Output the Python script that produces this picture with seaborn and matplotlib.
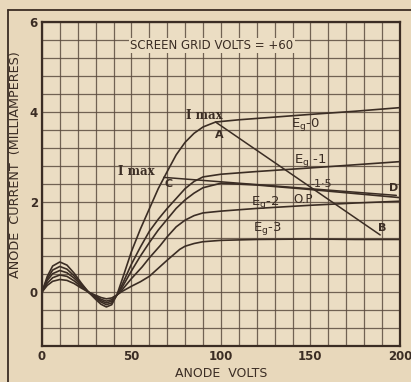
import numpy as np
import pandas as pd
import matplotlib
matplotlib.use("Agg")
import matplotlib.pyplot as plt
from matplotlib.lines import Line2D
import seaborn as sns

# Anode volts / anode current (mA) for each control-grid bias
volts_eg0 = [0, 3, 6, 10, 14, 18, 22, 26, 30, 33, 36, 39, 42, 45, 50, 55, 60, 65, 70, 75, 80, 85, 90, 97, 110, 130, 150, 175, 200]
ma_eg0 = [0.0, 0.35, 0.58, 0.67, 0.6, 0.42, 0.2, 0.0, -0.16, -0.27, -0.33, -0.28, -0.05, 0.3, 0.9, 1.4, 1.85, 2.3, 2.68, 3.05, 3.33, 3.53, 3.67, 3.78, 3.83, 3.89, 3.95, 4.02, 4.1]

volts_eg1 = [0, 3, 6, 10, 14, 18, 22, 26, 30, 33, 36, 39, 42, 45, 50, 55, 60, 65, 70, 75, 80, 85, 90, 100, 120, 150, 175, 200]
ma_eg1 = [0.0, 0.3, 0.49, 0.57, 0.51, 0.36, 0.18, 0.0, -0.13, -0.22, -0.28, -0.24, -0.06, 0.18, 0.62, 1.0, 1.35, 1.62, 1.86, 2.08, 2.3, 2.46, 2.56, 2.62, 2.68, 2.76, 2.83, 2.9]

volts_eg15 = [0, 3, 6, 10, 14, 18, 22, 26, 30, 33, 36, 39, 42, 45, 50, 55, 60, 65, 70, 75, 80, 85, 90, 100, 120, 150, 175, 200]
ma_eg15 = [0.0, 0.26, 0.41, 0.48, 0.43, 0.31, 0.15, 0.0, -0.11, -0.19, -0.24, -0.2, -0.06, 0.12, 0.47, 0.8, 1.1, 1.38, 1.62, 1.86, 2.05, 2.2, 2.32, 2.42, 2.38, 2.28, 2.19, 2.1]

volts_eg2 = [0, 3, 6, 10, 14, 18, 22, 26, 30, 33, 36, 39, 42, 45, 50, 56, 60, 66, 70, 75, 80, 85, 90, 100, 120, 150, 175, 200]
ma_eg2 = [0.0, 0.2, 0.32, 0.38, 0.35, 0.25, 0.12, 0.0, -0.09, -0.16, -0.2, -0.17, -0.06, 0.06, 0.3, 0.56, 0.76, 1.03, 1.23, 1.45, 1.6, 1.7, 1.76, 1.8, 1.86, 1.93, 1.98, 2.02]

volts_eg3 = [0, 3, 6, 10, 14, 18, 22, 26, 30, 33, 36, 39, 42, 45, 50, 55, 60, 65, 70, 77, 80, 85, 90, 100, 120, 150, 175, 200]
ma_eg3 = [0.0, 0.15, 0.24, 0.28, 0.26, 0.19, 0.09, 0.0, -0.07, -0.12, -0.15, -0.13, -0.06, 0.02, 0.13, 0.23, 0.35, 0.53, 0.71, 0.95, 1.02, 1.08, 1.12, 1.15, 1.17, 1.18, 1.17, 1.17]

# Load lines: A-B and C-D
load_ab_v = [97, 189]
load_ab_ma = [3.78, 1.27]
load_cd_v = [68, 198]
load_cd_ma = [2.55, 2.15]

x_tick_labels = ["0", "50", "100", "150", "200"]
y_tick_labels = ["0", "2", "4", "6"]

curves = pd.concat([
    pd.DataFrame({"volts": volts_eg0, "ma": ma_eg0, "bias": "0"}),
    pd.DataFrame({"volts": volts_eg1, "ma": ma_eg1, "bias": "-1"}),
    pd.DataFrame({"volts": volts_eg15, "ma": ma_eg15, "bias": "-1.5"}),
    pd.DataFrame({"volts": volts_eg2, "ma": ma_eg2, "bias": "-2"}),
    pd.DataFrame({"volts": volts_eg3, "ma": ma_eg3, "bias": "-3"}),
], ignore_index=True)
loads = pd.concat([
    pd.DataFrame({"volts": load_ab_v, "ma": load_ab_ma, "line": "AB"}),
    pd.DataFrame({"volts": load_cd_v, "ma": load_cd_ma, "line": "CD"}),
], ignore_index=True)

paper = "#E8D8BB"
ink = "#3b2d24"
grid_ink = "#5c4c40"

sns.set_theme(style="white")
plt.rcParams["font.family"] = ["DejaVu Sans"]

fig = plt.figure(figsize=(4.11, 3.82), dpi=100, facecolor=paper)
ax = fig.add_axes([0.102, 0.094, 0.871, 0.848])
ax.set_facecolor("#EBDDC3")

sns.lineplot(data=curves, x="volts", y="ma", hue="bias", units="bias", estimator=None,
             palette=[ink] * 5, linewidth=1.2, legend=False, sort=False, ax=ax)
sns.lineplot(data=loads, x="volts", y="ma", hue="line", units="line", estimator=None,
             palette=[ink] * 2, linewidth=1.1, legend=False, sort=False, ax=ax)

ax.set_xlim(0, 200)
ax.set_ylim(-1.2, 6.0)

xt = np.arange(0, 201, 10)
ax.set_xticks(xt)
ax.set_xticklabels([x_tick_labels[i // 5] if i % 5 == 0 else "" for i in range(len(xt))])
yt = np.round(np.arange(-3, 16) * 0.4, 1)
ax.set_yticks(yt)
ylab = []
for v in yt:
    s = ("%g" % v)
    ylab.append(s if s in y_tick_labels else "")
ax.set_yticklabels(ylab)
ax.tick_params(axis="both", length=0, pad=3, labelsize=8.5, colors=ink)
for lbl in ax.get_yticklabels() + ax.get_xticklabels():
    lbl.set_fontweight("bold")

ax.grid(True, color=grid_ink, linewidth=0.9, alpha=0.85)
ax.set_axisbelow(True)
for sp in ax.spines.values():
    sp.set_color(ink)
    sp.set_linewidth(1.6)

ax.set_xlabel("ANODE  VOLTS", fontsize=9, color=ink, labelpad=3)
ax.set_ylabel("ANODE  CURRENT  (MILLIAMPERES)", fontsize=9.2, color=ink)
ax.yaxis.set_label_coords(-0.056, 0.56)

ax.text(95, 5.48, "SCREEN GRID VOLTS = +60", ha="center", va="center", color=ink, fontsize=8.5,
        bbox=dict(facecolor="#EBDDC3", edgecolor="none", pad=1))
ax.text(91, 3.93, "I max", ha="center", va="center", fontweight="bold", family="DejaVu Serif",
        color=ink, fontsize=8.5)
ax.text(53, 2.68, "I max", ha="center", va="center", fontweight="bold", family="DejaVu Serif",
        color=ink, fontsize=8.5)
ax.text(99, 3.5, "A", ha="center", va="center", fontweight="bold", color=ink, fontsize=8)
ax.text(71, 2.4, "C", ha="center", va="center", fontweight="bold", color=ink, fontsize=8)
ax.text(190, 1.42, "B", ha="center", va="center", fontweight="bold", color=ink, fontsize=8)
ax.text(196.5, 2.32, "D", ha="center", va="center", fontweight="bold", color=ink, fontsize=8)
ax.text(147, 3.72, "E$_{\\rm g}$-0", ha="center", va="center", color=ink, fontsize=9.5)
ax.text(150, 2.92, "E$_{\\rm g}$ -1", ha="center", va="center", color=ink, fontsize=9.5)
ax.text(156, 2.4, "-1·5", ha="center", va="center", color=ink, fontsize=8)
ax.text(125, 2.0, "E$_{\\rm g}$-2", ha="center", va="center", color=ink, fontsize=9.5)
ax.text(146, 2.05, "O.P", ha="center", va="center", color=ink, fontsize=8.5)
ax.text(126, 1.42, "E$_{\\rm g}$-3", ha="center", va="center", color=ink, fontsize=9.5)

# page border around the printed figure
fig.add_artist(Line2D([8 / 411, 1.0], [1 - 10 / 382, 1 - 10 / 382], color=ink, linewidth=1.3,
                      transform=fig.transFigure))
fig.add_artist(Line2D([8 / 411, 8 / 411], [0.0, 1 - 10 / 382], color=ink, linewidth=1.3,
                      transform=fig.transFigure))

fig.savefig("out.png", dpi=100, facecolor=paper)
